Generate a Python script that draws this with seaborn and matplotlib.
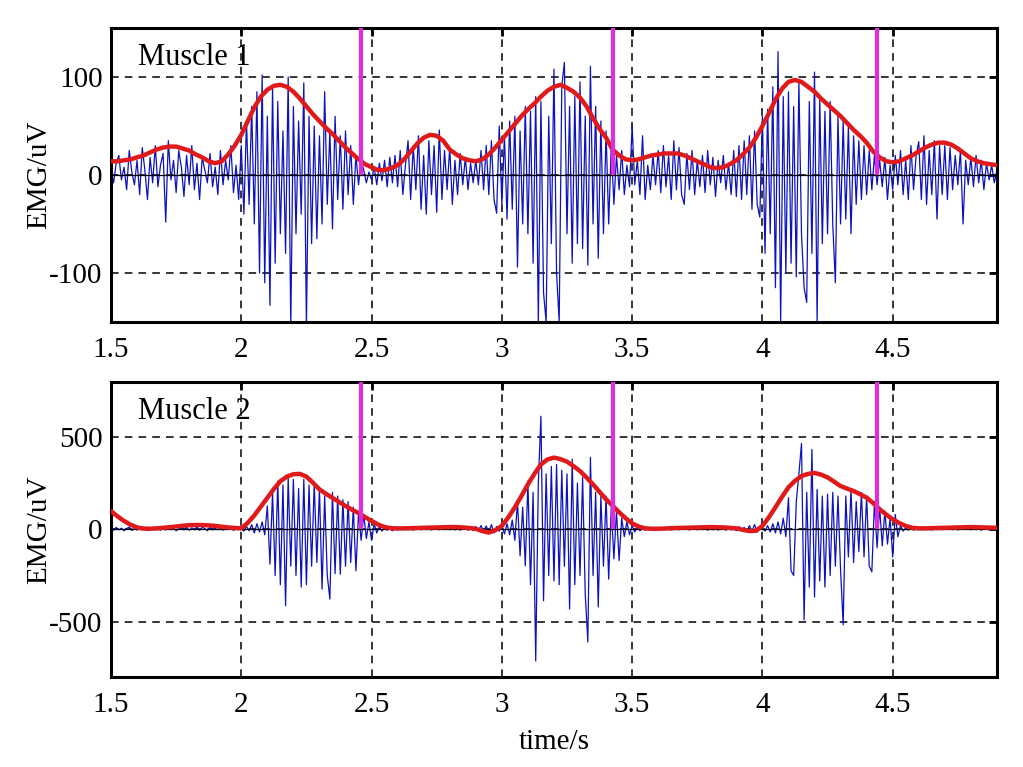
import numpy as np
import pandas as pd
import matplotlib
matplotlib.use("Agg")
import matplotlib.pyplot as plt
import seaborn as sns

# ---------------- data ----------------
t_start, t_step = 1.5, 0.01          # raw EMG sample grid
env_step = 0.025                     # envelope sample grid

raw1 = [
    5, -8, 12, 20, -5, 8, -15, 25, 3, -10,
    15, -20, 28, 5, -25, 18, -8, 30, -12, 10,
    22, -48, 35, -5, 15, -18, 25, 8, -22, 20,
    -10, 30, -15, 12, -25, 18, 5, -8, 22, -12,
    8, -20, 25, -10, 15, -5, 30, -18, 10, -25,
    30, -40, 55, -30, 70, -50, 85, -100, 102, -110,
    60, -133, 90, -90, 75, -60, 45, -80, 100, -155,
    70, -60, 55, -40, 94, -155, 60, -70, 50, -65,
    40, -50, 85, -30, 45, -55, 60, -25, 40, -35,
    45, -20, 30, -30, 20, -10, 15, 5, -8, 3,
    -5, 8, -10, 12, -6, 15, -12, 18, -8, 20,
    -12, 25, -20, 10, 35, -25, 30, -15, 40, -35,
    20, -40, 35, -20, 30, -38, 46, -25, 25, -15,
    28, -30, 15, -20, 22, -10, 18, -15, 12, -8,
    15, -10, 25, -15, 30, -20, 35, -25, -39, 50,
    -30, 40, -45, 55, -35, 60, -94, 45, -50, 70,
    -60, 65, -90, 80, -150, 75, -120, -150, 60, -70,
    108, -100, -150, 90, 115, -60, 70, -90, 80, -70,
    95, -75, 60, -92, 111, -50, 70, -85, 55, -60,
    45, -50, 30, -30, 20, -15, 25, -20, 10, -12,
    50, -10, 15, -20, 40, -25, 10, -15, 20, -10,
    25, -18, 30, -12, 20, -25, 35, -15, 28, -20,
    -30, 22, -15, 25, -20, 15, -12, 20, -18, 25,
    -10, 18, -22, 15, -8, 20, -15, 12, -20, 25,
    -22, 30, -25, 35, -20, 40, -35, 45, -30, -43,
    60, -80, 67, -60, 90, -115, 126, -150, 80, -100,
    85, -90, 70, -104, 95, -60, -115, -130, 75, -80,
    105, -150, 80, -70, 65, -60, 75, -50, -110, 60,
    -50, 55, -45, 50, -60, 40, -30, 35, -25, 30,
    -20, 25, -15, 20, -10, 15, -12, 18, -25, 10,
    -15, 20, -10, 25, -20, 15, -25, 30, -15, 20,
    34, -25, 40, -30, 25, -20, 35, -45, 30, -20,
    30, -25, 28, -15, 20, -10, 25, -50, 15, -10,
    18, -12, 20, -8, 15, -15, 12, -5, 10, -8,
    5,
]

raw2 = [
    8, -5, 10, -3, 6, -8, 4, 12, -6, 3,
    -4, 6, -2, 5, -6, 3, 8, -3, 4, -5,
    6, -4, 10, -2, 5, -8, 3, 6, -3, 12,
    -5, 8, -3, 15, -6, 10, 4, -8, 12, -4,
    6, -3, 10, -5, 4, -2, 8, -6, 5, 3,
    5, -10, 15, -8, 25, -20, 30, -15, 40, -30,
    126, -189, 200, -250, 261, -300, 240, -414, 280, -200,
    270, -250, 220, -313, 270, -300, 240, -200, 250, -180,
    220, -324, 180, -250, -378, 200, -240, 180, -243, 160,
    -200, 150, -180, 120, -225, 90, -60, 80, -50, 40,
    -60, 30, -20, 15, -10, 8, -5, 5, -8, 5,
    -4, 5, -3, 6, -2, 4, -5, 3, 6, -3,
    4, -2, 5, -4, 3, 6, -3, 5, -2, 4,
    -3, 6, -4, 8, -5, 3, 10, -6, 12, -8,
    15, -10, 20, -12, 18, -15, 25, -20, 15, -10,
    20, -25, 30, -30, 50, -60, 150, -144, 120, -198,
    261, -300, 200, -713, 250, 612, -387, 300, -250, 340,
    -280, 351, -300, 320, -200, 300, -432, 380, -300, 250,
    -250, 280, -350, -610, 389, -250, 200, -421, 180, -200,
    180, -270, 120, -160, 100, -169, 60, -40, 40, -30,
    20, -15, 10, -8, 5, -5, 5, -3, 5, -3,
    4, -3, 5, -2, 6, -4, 3, 5, -3, 4,
    -2, 6, -4, 3, 5, -3, 8, -2, 4, -5,
    6, -3, 10, -5, 4, 8, -6, 12, -4, 6,
    -8, 15, -5, 10, -12, 20, -10, 25, -15, 10,
    5, -10, 20, -15, 30, -20, 40, -25, 60, -40,
    171, -225, -250, 150, 300, 464, -491, 200, -313, 432,
    -367, 216, -280, 180, -313, 190, -250, 200, -200, 180,
    -220, -517, 180, -150, 220, -180, 150, -120, 200, -150,
    180, -200, -230, 150, -100, 120, -90, 100, -80, 60,
    -150, 80, -40, 20, -10, 8, -5, 5, -5, 3,
    4, -3, 5, -2, 3, -4, 6, -2, 4, -3,
    5, -2, 4, -3, 6, -4, 3, 5, -2, 4,
    -3, 6, -2, 4, -5, 3, 8, -4, 5, -3,
    2,
]

env1 = [
    14, 14, 15, 16, 18, 20, 23, 26, 28, 29,
    29, 27, 25, 21, 18, 14, 12, 14, 21, 30,
    41, 55, 69, 80, 87, 91, 92, 90, 85, 78,
    70, 62, 55, 48, 42, 35, 28, 22, 16, 11,
    8, 5, 5, 7, 10, 16, 24, 32, 38, 41,
    40, 35, 26, 21, 17, 15, 14, 16, 21, 28,
    36, 44, 52, 60, 67, 73, 80, 86, 90, 92,
    89, 85, 79, 70, 58, 47, 38, 26, 20, 16,
    15, 16, 18, 20, 21, 22, 22, 22, 20, 17,
    14, 11, 8, 7, 8, 11, 15, 21, 28, 38,
    50, 63, 77, 88, 95, 97, 95, 90, 85, 78,
    72, 66, 60, 53, 46, 40, 33, 24, 18, 14,
    13, 14, 17, 20, 24, 28, 31, 33, 33, 31,
    27, 22, 17, 14, 12, 11, 10,
]

env2 = [
    99, 70, 45, 25, 10, 4, 3, 5, 8, 11,
    15, 19, 22, 23, 23, 21, 18, 14, 10, 7,
    5, 35, 75, 122, 170, 218, 260, 285, 298, 300,
    285, 252, 216, 192, 170, 148, 126, 106, 88, 66,
    45, 26, 12, 6, 5, 5, 6, 7, 8, 9,
    10, 11, 12, 12, 10, 7, 3, -10, -18, -5,
    18, 65, 119, 180, 243, 300, 351, 378, 388, 380,
    366, 342, 315, 280, 243, 202, 162, 128, 92, 60,
    32, 15, 5, 3, 3, 4, 6, 7, 8, 9,
    10, 11, 12, 11, 10, 8, 5, -3, -10, -8,
    18, 65, 119, 175, 227, 262, 288, 300, 305, 296,
    281, 258, 234, 220, 207, 190, 171, 142, 108, 80,
    54, 34, 18, 8, 5, 5, 6, 7, 8, 9,
    10, 11, 12, 11, 10, 9, 8,
]

onsets = [2.46, 3.425, 4.44]          # magenta event markers
panel_titles = ["Muscle 1", "Muscle 2"]
xticks = [1.5, 2, 2.5, 3, 3.5, 4, 4.5]
xticklabels = ["1.5", "2", "2.5", "3", "3.5", "4", "4.5"]
yticks = [[-100, 0, 100], [-500, 0, 500]]
ylims = [(-150, 150), (-800, 800)]
xlim = (1.5, 4.9)

t_raw = np.round(t_start + t_step * np.arange(len(raw1)), 3)
t_env = np.round(t_start + env_step * np.arange(len(env1)), 3)

# ---------------- style ----------------
sns.set_style("white")
plt.rcParams["font.family"] = ["Liberation Serif", "DejaVu Serif"]
plt.rcParams["axes.unicode_minus"] = False
for k in ["text.color", "axes.labelcolor", "xtick.color", "ytick.color",
          "axes.edgecolor"]:
    plt.rcParams[k] = "black"

fig = plt.figure(figsize=(10.23, 7.67), dpi=100)
ax1 = fig.add_axes([0.1085, 0.5802, 0.866, 0.3833])
ax2 = fig.add_axes([0.1085, 0.1173, 0.866, 0.3853])

for i, (ax, raw, env) in enumerate([(ax1, raw1, env1), (ax2, raw2, env2)]):
    df_raw = pd.DataFrame({"t": t_raw, "v": raw})
    df_env = pd.DataFrame({"t": t_env, "v": env})
    for x in xticks[1:]:
        ax.axvline(x, color="black", lw=1.1, ls=(0, (5, 4)), zorder=0.5)
    for y in yticks[i]:
        ax.axhline(y, color="black", lw=1.1, ls=(0, (5, 4)), zorder=0.5)
    sns.lineplot(data=df_raw, x="t", y="v", ax=ax, color="#0c12bc", lw=0.9,
                 estimator=None, zorder=2)
    ax.axhline(0, color="black", lw=0.9, zorder=2.5)
    sns.lineplot(data=df_env, x="t", y="v", ax=ax, color="#e01a1a", lw=3.2,
                 estimator=None, zorder=3)
    ax.vlines(onsets, 0, ylims[i][1], color="#dd2ddd", lw=3.0, zorder=4)
    ax.set_xlim(*xlim)
    ax.set_ylim(*ylims[i])
    ax.set_xticks(xticks)
    ax.set_xticklabels(xticklabels)
    ax.set_yticks(yticks[i])
    ax.set_yticklabels([str(v) for v in yticks[i]])
    ax.tick_params(direction="in", length=6, width=2, top=True, right=True,
                   labelsize=21, colors="black")
    ax.tick_params(axis="x", pad=11)
    ax.tick_params(axis="y", pad=6)
    for s in ax.spines.values():
        s.set_linewidth(2.2)
        s.set_color("black")
        s.set_visible(True)
    ax.set_ylabel("EMG/uV", fontsize=21, labelpad=-2)
    ax.set_xlabel("")
    ax.text(1.605, ylims[i][1] * 0.8, panel_titles[i], fontsize=22,
            va="center", ha="left", zorder=5)

ax2.set_xlabel("time/s", fontsize=21, labelpad=8)

fig.savefig("out.png", dpi=100)
